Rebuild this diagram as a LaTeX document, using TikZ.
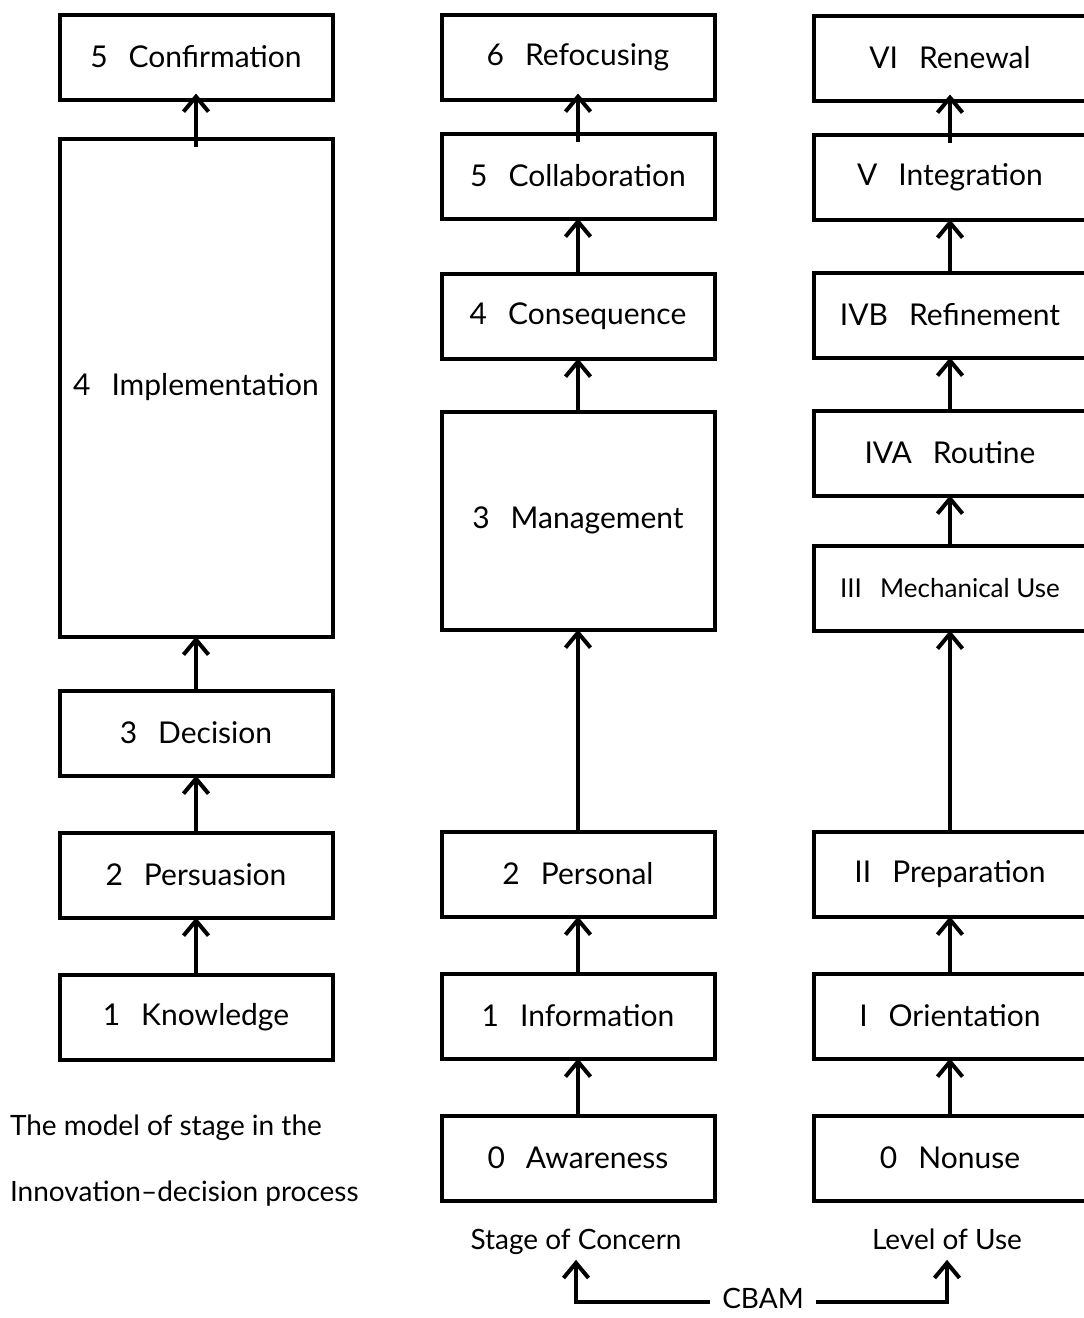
\documentclass[tikz,border=0pt]{standalone}
\usepackage{fontspec}
\setmainfont{Lato}
\usepackage{tikz}
\usetikzlibrary{positioning}
\usetikzlibrary{arrows.meta}
\newcommand{\stgap}{\hspace{0.7em}}
\tikzset{	node distance=57pt,
	every node/.style={
		font=\fontsize{30}{36}\selectfont,
		outer sep=0pt},
	stagebox/.style={
		draw,
		line width=4pt,
		minimum width=273pt,
		minimum height=85pt,
		inner sep=0pt},
	upflow/.style={
		draw,
		line width=4pt,
		-{Straight Barb[length=15pt,width=25pt]}},
	overlap/.style={shorten <=-8pt, shorten >=-6pt},
	caption/.style={
		font=\fontsize{28}{34}\selectfont,
		text height=20pt,
		text depth=7pt}
}

\begin{document}
\begin{tikzpicture}[x=1pt, y=-1pt]
	\useasboundingbox (0,0) rectangle (1084,1318);
	% innovation-decision process
	\node[stagebox] (know) at (196,1017) {1\stgap Knowledge};
	\node[stagebox, above=of know] (pers) {2\stgap Persuasion};
	\node[stagebox, above=of pers] (deci) {3\stgap Decision};
	\node[stagebox, minimum height=498pt, above=54pt of deci] (impl) {4\stgap Implementation};
	\node[stagebox, above=39pt of impl] (conf) {5\stgap Confirmation};
	\draw[upflow] (know) -- (pers);
	\draw[upflow] (pers) -- (deci);
	\draw[upflow] (deci) -- (impl);
	\draw[upflow, overlap] (impl) -- (conf);
	\node[caption, anchor=west, inner xsep=0pt] (capa) at (10,1129) {The model of stage in the};
	\node[caption, anchor=west, inner xsep=0pt] (capb) at (10,1195) {Innovation--decision process};
	% stage of concern
	\node[stagebox] (aware) at (578,1158) {0\stgap Awareness};
	\node[stagebox, above=of aware] (info) {1\stgap Information};
	\node[stagebox, above=of info] (perso) {2\stgap Personal};
	\node[stagebox, minimum height=218pt, above=202pt of perso] (mana) {3\stgap Management};
	\node[stagebox, above=53pt of mana] (cons) {4\stgap Consequence};
	\node[stagebox, above=55pt of cons] (coll) {5\stgap Collaboration};
	\node[stagebox, above=34pt of coll] (refo) {6\stgap Refocusing};
	\draw[upflow] (aware) -- (info);
	\draw[upflow] (info) -- (perso);
	\draw[upflow] (perso) -- (mana);
	\draw[upflow] (mana) -- (cons);
	\draw[upflow] (cons) -- (coll);
	\draw[upflow, overlap] (coll) -- (refo);
	% level of use
	\node[stagebox] (nonuse) at (950,1158) {0\stgap Nonuse};
	\node[stagebox, above=of nonuse] (orie) {I\stgap Orientation};
	\node[stagebox, above=of orie] (prep) {II\stgap Preparation};
	\node[stagebox, above=201pt of prep, font=\fontsize{26}{32}\selectfont] (mech) {III\stgap Mechanical Use};
	\node[stagebox, above=50pt of mech] (rout) {IVA\stgap Routine};
	\node[stagebox, above=53pt of rout] (refi) {IVB\stgap Refinement};
	\node[stagebox, above=53pt of refi] (inte) {V\stgap Integration};
	\node[stagebox, above=34pt of inte] (rene) {VI\stgap Renewal};
	\draw[upflow] (nonuse) -- (orie);
	\draw[upflow] (orie) -- (prep);
	\draw[upflow] (prep) -- (mech);
	\draw[upflow] (mech) -- (rout);
	\draw[upflow] (rout) -- (refi);
	\draw[upflow] (refi) -- (inte);
	\draw[upflow, overlap] (inte) -- (rene);
	% CBAM
	\node[caption] (soc) at (576,1243) {Stage of Concern};
	\node[caption] (lou) at (947,1243) {Level of Use};
	\node[caption, inner xsep=12pt] (cbam) at (763,1302) {CBAM};
	\draw[upflow] (cbam.west) -| (soc.south);
	\draw[upflow] (cbam.east) -| (lou.south);
\end{tikzpicture}
\end{document}
